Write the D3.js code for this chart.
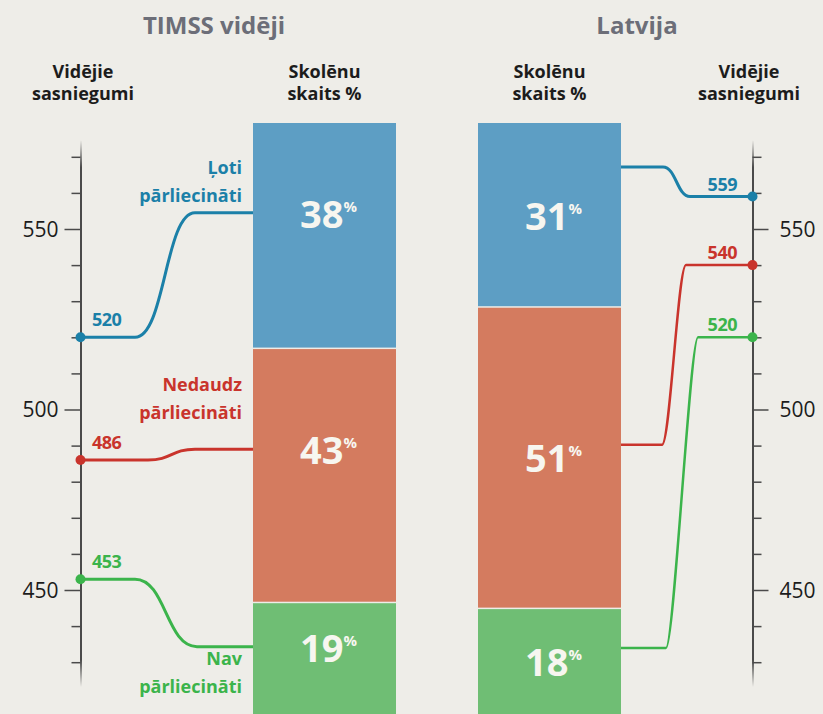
<!DOCTYPE html>
<html><head><meta charset="utf-8">
<script src="https://cdn.jsdelivr.net/npm/d3@7"></script>
<style>
html,body{margin:0;padding:0;background:#eeede8;}
svg{display:block;font-family:"Open Sans",sans-serif;}
</style></head><body>
<svg id="chart" width="823" height="714"></svg>
<script>
// ---- data ----
const categoryLines = [["Ļoti","pārliecināti"],["Nedaudz","pārliecināti"],["Nav","pārliecināti"]];
const timssShare = [38, 43, 19];
const latviaShare = [31, 51, 18];
const timssScore = [520, 486, 453];
const latviaScore = [559, 540, 520];
const majorTicks = [450, 500, 550];
const minorTicks = [430, 440, 460, 470, 480, 490, 510, 520, 530, 540, 560, 570];
const panelTitles = ["TIMSS vidēji", "Latvija"];
const headerScore = ["Vidējie", "sasniegumi"];
const headerShare = ["Skolēnu", "skaits %"];

// ---- styles ----
const barColors = ["#5d9ec4", "#d47b5f", "#6fbe74"];
const lineColors = ["#1b80a8", "#c9342c", "#3bb44b"];
const textColor = "#1c1c1c";

const svg = d3.select("#chart");
const W = 823, H = 714;
svg.append("rect").attr("width", W).attr("height", H).attr("fill", "#eeede8");

const yScore = d3.scaleLinear().domain([450, 550]).range([590, 229]);
const yShare = d3.scaleLinear().domain([0, 100]).range([123, 714]);
const xPanel = d3.scalePoint().domain(["left", "right"]).range([253, 478]);
const barW = 143;
const axisX = {left: 80.5, right: 752.5};
const axisTop = 140, axisBottom = 687;

// gradient for faded axis ends
const defs = svg.append("defs");
const grad = defs.append("linearGradient").attr("id", "axfade")
  .attr("gradientUnits", "userSpaceOnUse").attr("x1", 0).attr("x2", 0)
  .attr("y1", axisTop).attr("y2", axisBottom);
[[0, 0], [0.05, 1], [0.95, 1], [1, 0]].forEach(([o, a]) =>
  grad.append("stop").attr("offset", o).attr("stop-color", "#4a4a4a").attr("stop-opacity", a));

// ---- axes ----
function drawAxis(side) {
  const axScale = yScore.copy().domain([yScore.invert(axisBottom), yScore.invert(axisTop)]).range([axisBottom, axisTop]);
  const mk = side === "left" ? d3.axisLeft : d3.axisRight;
  const g = svg.append("g").attr("transform", `translate(${axisX[side]},0)`);
  const minor = g.append("g").call(mk(axScale).tickValues(minorTicks).tickSize(9).tickSizeOuter(0).tickFormat(""));
  minor.select(".domain").attr("stroke", "url(#axfade)").attr("stroke-width", 2);
  minor.selectAll(".tick line").attr("stroke", "#4a4a4a").attr("stroke-width", 1.5);
  const major = g.append("g").call(mk(axScale).tickValues(majorTicks).tickSize(16).tickSizeOuter(0).tickPadding(side === "left" ? 6 : 11));
  major.select(".domain").remove();
  major.selectAll(".tick line").attr("stroke", "#4a4a4a").attr("stroke-width", 1.5);
  major.selectAll(".tick text").attr("font-size", 21).attr("fill", textColor)
    .attr("font-family", "'Open Sans',sans-serif").attr("dy", "0.34em");
}
drawAxis("left");
drawAxis("right");

// ---- bars ----
function drawBar(side, shares, labelFrac) {
  const cum = d3.cumsum(shares);
  const x0 = xPanel(side);
  const g = svg.append("g");
  const anchors = [];
  shares.forEach((s, i) => {
    const y0 = yShare(cum[i] - s), y1 = yShare(cum[i]);
    g.append("rect").attr("x", x0).attr("y", y0 + (i ? 1.5 : 0)).attr("width", barW)
      .attr("height", y1 - y0 - (i ? 1.5 : 0)).attr("fill", barColors[i]);
    const cy = y0 + (y1 - y0) * labelFrac;
    anchors.push(cy);
    const t = g.append("text").attr("x", x0 + barW / 2 + 4).attr("y", cy + 15)
      .attr("text-anchor", "middle").attr("fill", "#f7f6f0").attr("font-weight", 700).attr("font-size", 38);
    t.append("tspan").text(s);
    t.append("tspan").attr("font-size", 15).attr("dy", -16).text("%");
  });
  return {cum, anchors};
}
const leftBar = drawBar("left", timssShare, 0.4);
const rightBar = drawBar("right", latviaShare, 0.5);

// ---- left connector lines ----
const leftCurve = [[135, 195], [148, 195], [135, 197]];
timssScore.forEach((v, i) => {
  const y0 = yScore(v), y1 = leftBar.anchors[i];
  const [xa, xb] = leftCurve[i];
  const p = d3.path();
  p.moveTo(axisX.left, y0);
  p.lineTo(xa, y0);
  const xm = (xa + xb) / 2;
  p.bezierCurveTo(xm, y0, xm, y1, xb, y1);
  p.lineTo(xPanel("left"), y1);
  svg.append("path").attr("d", p.toString()).attr("fill", "none")
    .attr("stroke", lineColors[i]).attr("stroke-width", 3);
  svg.append("circle").attr("cx", axisX.left).attr("cy", y0).attr("r", 5).attr("fill", lineColors[i]);
  svg.append("text").attr("x", 92).attr("y", y0 - 11).attr("fill", lineColors[i])
    .attr("font-weight", 700).attr("font-size", 18).attr("letter-spacing", -0.5).text(v);
});

// ---- right connector lines ----
const rightStartFrac = [0.24, 0.46, 0.38];
const rightCurve = [[663, 690, 13], [662, 686, 8], [666, 698, 8]];
latviaScore.forEach((v, i) => {
  const cum = rightBar.cum;
  const s = latviaShare[i];
  const ya = yShare(cum[i] - s), yb = yShare(cum[i]);
  const y0 = ya + (yb - ya) * rightStartFrac[i];
  const y1 = yScore(v);
  const [xa, xb, k] = rightCurve[i];
  const p = d3.path();
  p.moveTo(xPanel("right") + barW, y0);
  p.lineTo(xa, y0);
  p.bezierCurveTo(xa + k, y0, xb - k, y1, xb, y1);
  p.lineTo(axisX.right, y1);
  svg.append("path").attr("d", p.toString()).attr("fill", "none")
    .attr("stroke", lineColors[i]).attr("stroke-width", i === 0 ? 3 : 2.5);
  svg.append("circle").attr("cx", axisX.right).attr("cy", y1).attr("r", 5).attr("fill", lineColors[i]);
  svg.append("text").attr("x", 737).attr("y", y1 - 6).attr("text-anchor", "end").attr("fill", lineColors[i])
    .attr("font-weight", 700).attr("font-size", 18).attr("letter-spacing", -0.5).text(v);
});

// ---- category labels ----
const catDy = [-39, -58, 18];
categoryLines.forEach((lines, i) => {
  const yb = leftBar.anchors[i] + catDy[i];
  const t = svg.append("text").attr("text-anchor", "end").attr("fill", lineColors[i])
    .attr("font-weight", 700).attr("font-size", 18);
  lines.forEach((ln, j) => t.append("tspan").attr("x", 242).attr("y", yb + j * 28).text(ln));
});

// ---- headers ----
function header(lines, cx) {
  lines.forEach((ln, j) => svg.append("text").attr("text-anchor", "middle").attr("fill", textColor)
    .attr("font-weight", 700).attr("font-size", 18).attr("x", cx).attr("y", 78 + j * 22).text(ln));
}
header(headerScore, 83);
header(headerShare, xPanel("left") + barW / 2);
header(headerShare, xPanel("right") + barW / 2);
header(headerScore, 749);

svg.append("text").attr("x", 214).attr("y", 34).attr("text-anchor", "middle")
  .attr("fill", "#6c6e78").attr("font-weight", 700).attr("font-size", 24).text(panelTitles[0]);
svg.append("text").attr("x", 637).attr("y", 34).attr("text-anchor", "middle")
  .attr("fill", "#6c6e78").attr("font-weight", 700).attr("font-size", 24).text(panelTitles[1]);
</script>
</body></html>
